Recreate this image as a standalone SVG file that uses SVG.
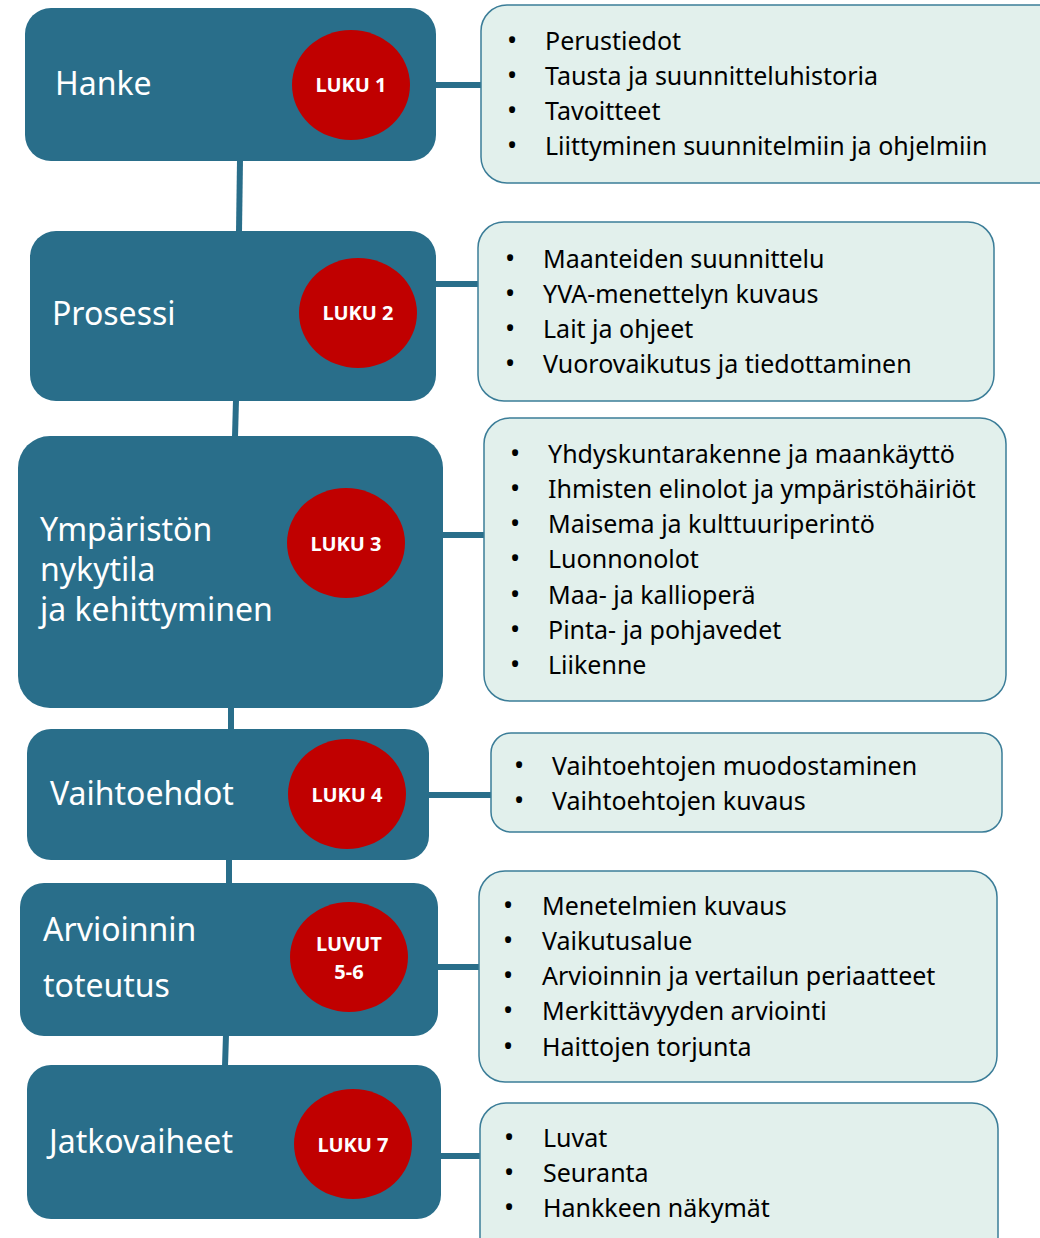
<svg xmlns="http://www.w3.org/2000/svg" width="1040" height="1238" viewBox="0 0 1040 1238">
<style>
.node{fill:#296e8a}
.badge{fill:#c00000}
.box{fill:#e2f0ec;stroke:#3b7d98;stroke-width:1.5}
.conn{stroke:#296e8a;stroke-width:6;fill:none}
.title{font-family:"Noto Sans","Open Sans",sans-serif;font-size:32px;fill:#ffffff}
.lbl{font-family:"Noto Sans","Open Sans",sans-serif;font-size:20px;font-weight:bold;fill:#ffffff;text-anchor:middle}
.item{font-family:"Noto Sans","Open Sans",sans-serif;font-size:25px;fill:#000000}
.dot{font-size:27px}
</style>
<g id="connectors">
<line class="conn" x1="240" y1="160" x2="239" y2="232"/>
<line class="conn" x1="236" y1="400" x2="235" y2="437"/>
<line class="conn" x1="231" y1="707" x2="231" y2="730"/>
<line class="conn" x1="229" y1="859" x2="229" y2="884"/>
<line class="conn" x1="226" y1="1035" x2="225" y2="1066"/>
<line class="conn" x1="435" y1="85" x2="482" y2="85"/>
<line class="conn" x1="435" y1="284" x2="479" y2="284"/>
<line class="conn" x1="442" y1="535" x2="485" y2="535"/>
<line class="conn" x1="428" y1="795" x2="492" y2="795"/>
<line class="conn" x1="437" y1="967" x2="480" y2="967"/>
<line class="conn" x1="440" y1="1156" x2="481" y2="1156"/>
</g>
<g id="node-hanke">
<rect class="node" x="25" y="8" width="411" height="153" rx="26"/>
<ellipse class="badge" cx="351" cy="85" rx="59" ry="55"/>
<text class="title" x="55" y="95">Hanke</text>
<text class="lbl" x="351" y="92">LUKU 1</text>
</g>
<g id="node-prosessi">
<rect class="node" x="30" y="231" width="406" height="170" rx="26"/>
<ellipse class="badge" cx="358" cy="313" rx="59" ry="55"/>
<text class="title" x="52" y="325">Prosessi</text>
<text class="lbl" x="358" y="320">LUKU 2</text>
</g>
<g id="node-ymparisto">
<rect class="node" x="18" y="436" width="425" height="272" rx="32"/>
<ellipse class="badge" cx="346" cy="543" rx="59" ry="55"/>
<text class="title" x="40" y="541">Ympäristön</text>
<text class="title" x="40" y="581">nykytila</text>
<text class="title" x="40" y="621">ja kehittyminen</text>
<text class="lbl" x="346" y="551">LUKU 3</text>
</g>
<g id="node-vaihtoehdot">
<rect class="node" x="27" y="729" width="402" height="131" rx="24"/>
<ellipse class="badge" cx="347" cy="794" rx="59" ry="55"/>
<text class="title" x="50" y="805">Vaihtoehdot</text>
<text class="lbl" x="347" y="802">LUKU 4</text>
</g>
<g id="node-arvioinnin">
<rect class="node" x="20" y="883" width="418" height="153" rx="24"/>
<ellipse class="badge" cx="349" cy="957" rx="59" ry="55"/>
<text class="title" x="43" y="941">Arvioinnin</text>
<text class="title" x="43" y="997">toteutus</text>
<text class="lbl" x="349" y="951">LUVUT</text>
<text class="lbl" x="349" y="979">5-6</text>
</g>
<g id="node-jatkovaiheet">
<rect class="node" x="27" y="1065" width="414" height="154" rx="24"/>
<ellipse class="badge" cx="353" cy="1144" rx="59" ry="55"/>
<text class="title" x="49" y="1153">Jatkovaiheet</text>
<text class="lbl" x="353" y="1152">LUKU 7</text>
</g>
<g id="box-1">
<rect class="box" x="481" y="5" width="590" height="178" rx="26"/>
<text class="item"><tspan class="dot" x="507" y="50">•</tspan><tspan x="545" y="50">Perustiedot</tspan></text>
<text class="item"><tspan class="dot" x="507" y="85">•</tspan><tspan x="545" y="85">Tausta ja suunnitteluhistoria</tspan></text>
<text class="item"><tspan class="dot" x="507" y="120">•</tspan><tspan x="545" y="120">Tavoitteet</tspan></text>
<text class="item"><tspan class="dot" x="507" y="155">•</tspan><tspan x="545" y="155">Liittyminen suunnitelmiin ja ohjelmiin</tspan></text>
</g>
<g id="box-2">
<rect class="box" x="478" y="222" width="516" height="179" rx="26"/>
<text class="item"><tspan class="dot" x="505" y="268">•</tspan><tspan x="543" y="268">Maanteiden suunnittelu</tspan></text>
<text class="item"><tspan class="dot" x="505" y="303">•</tspan><tspan x="543" y="303">YVA-menettelyn kuvaus</tspan></text>
<text class="item"><tspan class="dot" x="505" y="338">•</tspan><tspan x="543" y="338">Lait ja ohjeet</tspan></text>
<text class="item"><tspan class="dot" x="505" y="373">•</tspan><tspan x="543" y="373">Vuorovaikutus ja tiedottaminen</tspan></text>
</g>
<g id="box-3">
<rect class="box" x="484" y="418" width="522" height="283" rx="26"/>
<text class="item"><tspan class="dot" x="510" y="463">•</tspan><tspan x="548" y="463">Yhdyskuntarakenne ja maankäyttö</tspan></text>
<text class="item"><tspan class="dot" x="510" y="498">•</tspan><tspan x="548" y="498">Ihmisten elinolot ja ympäristöhäiriöt</tspan></text>
<text class="item"><tspan class="dot" x="510" y="533">•</tspan><tspan x="548" y="533">Maisema ja kulttuuriperintö</tspan></text>
<text class="item"><tspan class="dot" x="510" y="568">•</tspan><tspan x="548" y="568">Luonnonolot</tspan></text>
<text class="item"><tspan class="dot" x="510" y="604">•</tspan><tspan x="548" y="604">Maa- ja kallioperä</tspan></text>
<text class="item"><tspan class="dot" x="510" y="639">•</tspan><tspan x="548" y="639">Pinta- ja pohjavedet</tspan></text>
<text class="item"><tspan class="dot" x="510" y="674">•</tspan><tspan x="548" y="674">Liikenne</tspan></text>
</g>
<g id="box-4">
<rect class="box" x="491" y="733" width="511" height="99" rx="20"/>
<text class="item"><tspan class="dot" x="514" y="775">•</tspan><tspan x="552" y="775">Vaihtoehtojen muodostaminen</tspan></text>
<text class="item"><tspan class="dot" x="514" y="810">•</tspan><tspan x="552" y="810">Vaihtoehtojen kuvaus</tspan></text>
</g>
<g id="box-5">
<rect class="box" x="479" y="871" width="518" height="211" rx="26"/>
<text class="item"><tspan class="dot" x="503" y="915">•</tspan><tspan x="542" y="915">Menetelmien kuvaus</tspan></text>
<text class="item"><tspan class="dot" x="503" y="950">•</tspan><tspan x="542" y="950">Vaikutusalue</tspan></text>
<text class="item"><tspan class="dot" x="503" y="985">•</tspan><tspan x="542" y="985">Arvioinnin ja vertailun periaatteet</tspan></text>
<text class="item"><tspan class="dot" x="503" y="1020">•</tspan><tspan x="542" y="1020">Merkittävyyden arviointi</tspan></text>
<text class="item"><tspan class="dot" x="503" y="1056">•</tspan><tspan x="542" y="1056">Haittojen torjunta</tspan></text>
</g>
<g id="box-6">
<rect class="box" x="480" y="1103" width="518" height="160" rx="26"/>
<text class="item"><tspan class="dot" x="504" y="1147">•</tspan><tspan x="543" y="1147">Luvat</tspan></text>
<text class="item"><tspan class="dot" x="504" y="1182">•</tspan><tspan x="543" y="1182">Seuranta</tspan></text>
<text class="item"><tspan class="dot" x="504" y="1217">•</tspan><tspan x="543" y="1217">Hankkeen näkymät</tspan></text>
</g>
</svg>
